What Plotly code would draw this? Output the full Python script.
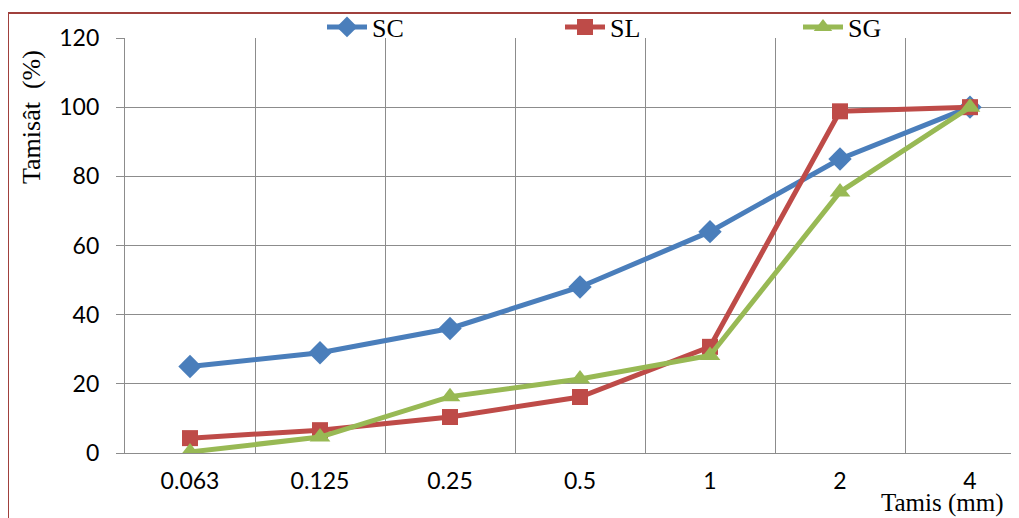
import plotly.graph_objects as go

sieves = ["0.063", "0.125", "0.25", "0.5", "1", "2", "4"]
sc = [25, 29, 36, 48, 64, 85, 100]
sl = [4.3, 6.6, 10.4, 16.2, 30.7, 98.8, 100]
sg = [0.3, 4.6, 16.3, 21.4, 28.2, 75.5, 100]
y_ticks = [0, 20, 40, 60, 80, 100, 120]

OFF = 8  # browser body margin
W, H = 1019 - OFF, 518 - OFF
L, T = 125 - OFF, 38 - OFF
B = H - (453 - OFF)
plot_w = W - L
plot_h = H - T - B


def px_x(p):
    return (p - OFF - L) / plot_w


def px_y(p):
    return (H - B - (p - OFF)) / plot_h


fig = go.Figure()
fig.add_trace(go.Scatter(x=sieves, y=sc, name="SC", mode="lines+markers", legend="legend",
                         line=dict(color="#4A7EBB", width=5),
                         marker=dict(symbol="diamond", size=18, color="#4A7EBB")))
fig.add_trace(go.Scatter(x=sieves, y=sl, name="SL", mode="lines+markers", legend="legend2",
                         line=dict(color="#BE4B48", width=5),
                         marker=dict(symbol="square", size=16, color="#BE4B48")))
fig.add_trace(go.Scatter(x=sieves, y=sg, name="SG", mode="lines+markers", legend="legend3",
                         line=dict(color="#98B954", width=5),
                         marker=dict(symbol="triangle-up", size=18, color="#98B954")))

serif = "Liberation Serif, Times New Roman, serif"
legend_font = dict(family=serif, size=26, color="black")


def leg(text_start):
    return dict(x=px_x(text_start - 45), y=px_y(27), xanchor="left", yanchor="middle",
                font=legend_font, bgcolor="rgba(0,0,0,0)", itemwidth=40)


px_per_cat = 130.0
fig.update_layout(
    width=W, height=H,
    margin=dict(l=L, r=0, t=T, b=B, autoexpand=False),
    paper_bgcolor="white", plot_bgcolor="white",
    showlegend=True,
    legend=leg(367), legend2=leg(605), legend3=leg(843),
    xaxis=dict(type="category", categoryorder="array", categoryarray=sieves,
               range=[-0.5, -0.5 + plot_w / px_per_cat],
               tickson="boundaries", showgrid=True, gridcolor="#8C8C8C", gridwidth=1.3,
               ticks="", showline=True, linecolor="#8C8C8C", linewidth=1.3,
               tickfont=dict(family="Lato", size=23, color="black"),
               ticklabelstandoff=7),
    yaxis=dict(range=[0, 120], tickvals=y_ticks, showgrid=True, gridcolor="#8C8C8C",
               gridwidth=1.3, zeroline=False, ticks="outside", ticklen=8,
               tickcolor="#8C8C8C", showline=True, linecolor="#8C8C8C", linewidth=1.3,
               tickfont=dict(family="Lato", size=23, color="black"),
               ticklabelstandoff=12),
    shapes=[dict(type="rect", xref="paper", yref="paper",
                 x0=px_x(8), x1=1.2, y0=-0.3, y1=px_y(13),
                 line=dict(color="#A0403C", width=2), fillcolor="rgba(0,0,0,0)", layer="below")],
    annotations=[
        dict(text="Tamis (mm)", xref="paper", yref="paper",
             x=px_x(1006), y=px_y(503),
             xanchor="right", yanchor="middle", showarrow=False,
             font=dict(family=serif, size=25, color="black")),
        dict(text="Tamisât  (%)", xref="paper", yref="paper",
             x=px_x(31), y=px_y(117), textangle=-90,
             xanchor="center", yanchor="middle", showarrow=False,
             font=dict(family=serif, size=26, color="black")),
    ],
)

fig.write_html("out.html")
